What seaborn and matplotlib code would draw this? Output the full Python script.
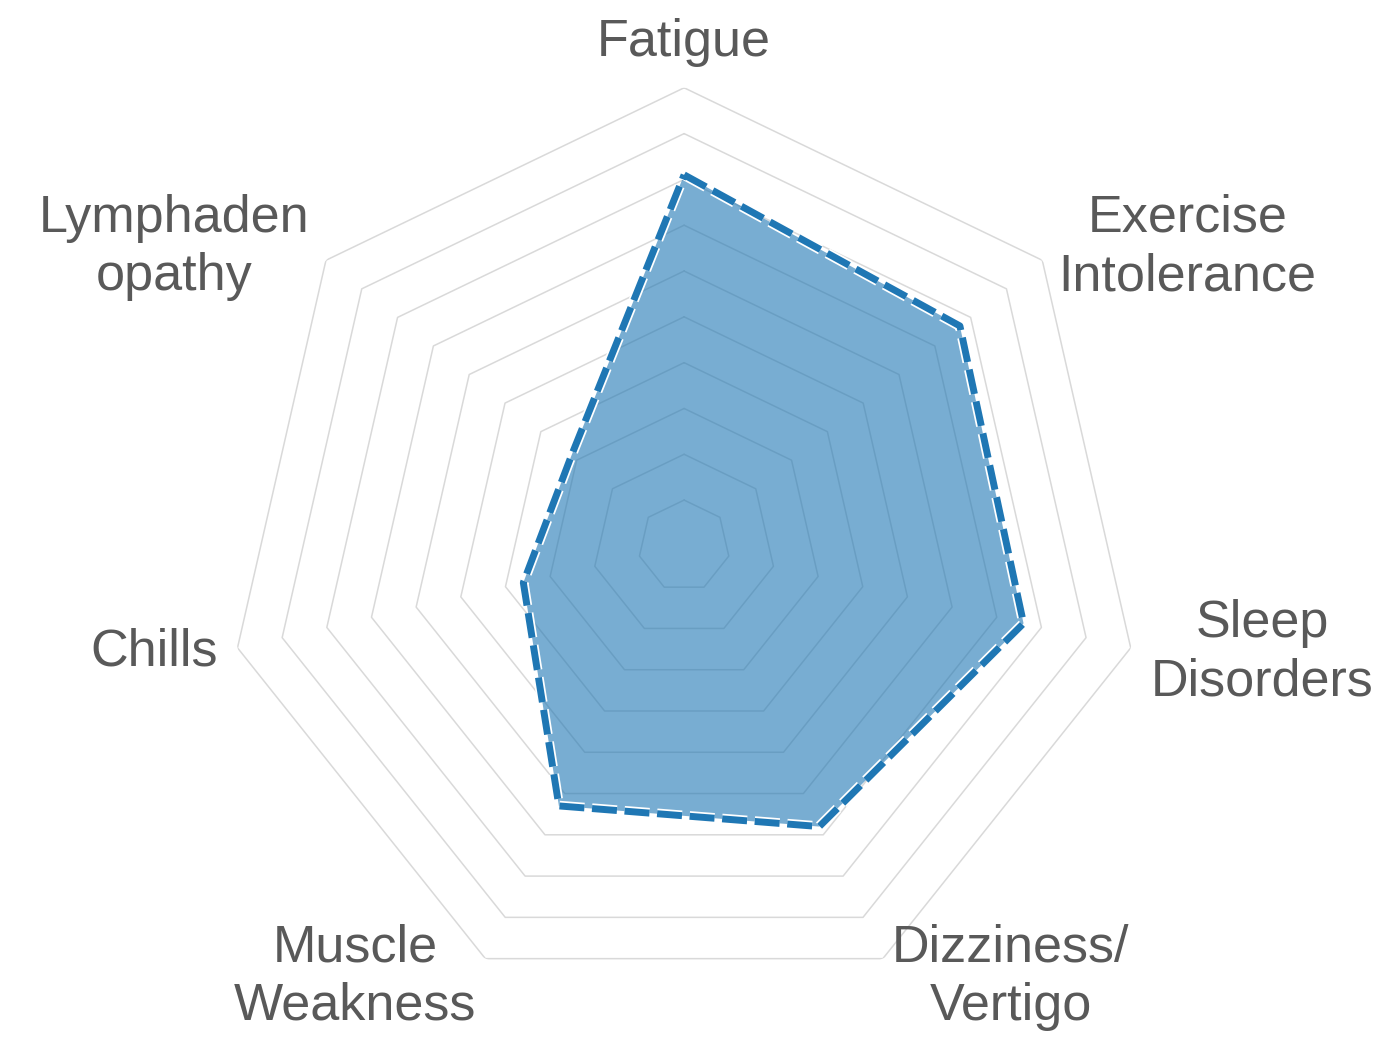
import numpy as np
import pandas as pd
import matplotlib
matplotlib.use('Agg')
import matplotlib.pyplot as plt
import matplotlib.patheffects as pe
import seaborn as sns

# Symptom scores (0-10 scale), clockwise from the top
symptoms = ['Fatigue', 'Exercise\nIntolerance', 'Sleep\nDisorders', 'Dizziness/\nVertigo',
            'Muscle\nWeakness', 'Chills', 'Lymphaden\nopathy']
scores = [8.1, 7.7, 7.6, 6.8, 6.3, 3.6, 3.15]
ring_levels = list(range(1, 11))

sns.set_theme(style='white')
plt.rcParams['font.family'] = ['Liberation Sans', 'DejaVu Sans']

blue = sns.color_palette('tab10')[0]
text_color = '#595959'

n = len(symptoms)
angles = np.linspace(0, 2 * np.pi, n, endpoint=False)
closed_angles = np.append(angles, angles[0])

data = pd.DataFrame({'theta': closed_angles, 'score': scores + scores[:1]})

fig = plt.figure(figsize=(13.84, 10.4), dpi=100)
ax = fig.add_axes([0.1633, 0.0346, 0.662, 0.881], projection='polar')
ax.set_theta_zero_location('N')
ax.set_theta_direction(-1)
ax.set_ylim(0, 10)

# heptagon grid rings
for lvl in ring_levels:
    ax.plot(closed_angles, [lvl] * (n + 1), color='#d9d9d9', lw=1.1, zorder=1)

# filled area + dashed outline
ax.fill(data['theta'], data['score'], color=blue, alpha=0.6, lw=0, zorder=2)
sns.lineplot(data=data, x='theta', y='score', sort=False, estimator=None, ax=ax,
             color=blue, lw=5, dashes=False, zorder=3)
line = ax.lines[-1]
line.set_dashes((3.6, 1.1))
line.set_solid_joinstyle('miter')
line.set_path_effects([pe.Stroke(linewidth=7.5, foreground='white'), pe.Normal()])

# category labels around the outside
for ang, lab in zip(angles, symptoms):
    s = np.sin(ang)
    if s > 0.1:
        ha, va = 'left', 'center'
    elif s < -0.1:
        ha, va = 'right', 'center'
    else:
        ha, va = 'center', 'bottom'
    ax.text(ang, 10.45, lab, ha=ha, va=va, multialignment='center',
            fontsize=37.5, color=text_color, linespacing=1.25, clip_on=False)

ax.set_xticks([])
ax.set_yticks([])
ax.set_xlabel('')
ax.set_ylabel('')
ax.grid(False)
ax.spines['polar'].set_visible(False)
if ax.get_legend() is not None:
    ax.get_legend().remove()

fig.savefig('out.png', dpi=100)
plt.close()
